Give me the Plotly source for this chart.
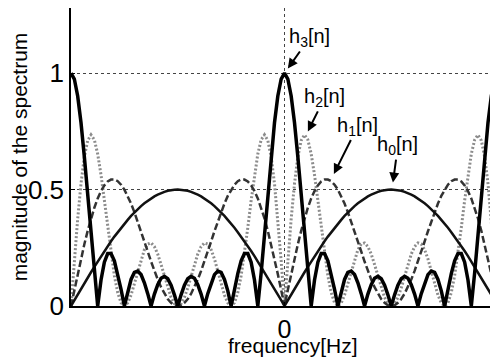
import plotly.graph_objects as go

# frequency bins (1/64 of the period), from -1 period to +1 period
freq_bins = list(range(-64, 65))

h0 = [0, 0.025, 0.049, 0.073, 0.098, 0.121, 0.145, 0.168, 0.191, 0.214, 0.236, 0.257, 0.278, 0.298, 0.317, 0.336,
      0.354, 0.370, 0.387, 0.402, 0.416, 0.429, 0.441, 0.452, 0.462, 0.471, 0.478, 0.485, 0.490, 0.495, 0.498, 0.499,
      0.500,
      0.499, 0.498, 0.495, 0.490, 0.485, 0.478, 0.471, 0.462, 0.452, 0.441, 0.429, 0.416, 0.402, 0.387, 0.370, 0.354,
      0.336, 0.317, 0.298, 0.278, 0.257, 0.236, 0.214, 0.191, 0.168, 0.145, 0.121, 0.098, 0.073, 0.049, 0.025, 0,
      0.025, 0.049, 0.073, 0.098, 0.121, 0.145, 0.168, 0.191, 0.214, 0.236, 0.257, 0.278, 0.298, 0.317, 0.336,
      0.354, 0.370, 0.387, 0.402, 0.416, 0.429, 0.441, 0.452, 0.462, 0.471, 0.478, 0.485, 0.490, 0.495, 0.498, 0.499,
      0.500,
      0.499, 0.498, 0.495, 0.490, 0.485, 0.478, 0.471, 0.462, 0.452, 0.441, 0.429, 0.416, 0.402, 0.387, 0.370, 0.354,
      0.336, 0.317, 0.298, 0.278, 0.257, 0.236, 0.214, 0.191, 0.168, 0.145, 0.121, 0.098, 0.073, 0.049, 0.025, 0]

h1 = [0, 0.069, 0.137, 0.203, 0.265, 0.323, 0.376, 0.422, 0.462, 0.494, 0.518, 0.535, 0.543, 0.543, 0.536, 0.521,
      0.500, 0.473, 0.440, 0.403, 0.363, 0.321, 0.277, 0.234, 0.191, 0.151, 0.114, 0.081, 0.053, 0.030, 0.014, 0.003,
      0,
      0.003, 0.014, 0.030, 0.053, 0.081, 0.114, 0.151, 0.191, 0.234, 0.277, 0.321, 0.363, 0.403, 0.440, 0.473, 0.500,
      0.521, 0.536, 0.543, 0.543, 0.535, 0.518, 0.494, 0.462, 0.422, 0.376, 0.323, 0.265, 0.203, 0.137, 0.069, 0,
      0.069, 0.137, 0.203, 0.265, 0.323, 0.376, 0.422, 0.462, 0.494, 0.518, 0.535, 0.543, 0.543, 0.536, 0.521,
      0.500, 0.473, 0.440, 0.403, 0.363, 0.321, 0.277, 0.234, 0.191, 0.151, 0.114, 0.081, 0.053, 0.030, 0.014, 0.003,
      0,
      0.003, 0.014, 0.030, 0.053, 0.081, 0.114, 0.151, 0.191, 0.234, 0.277, 0.321, 0.363, 0.403, 0.440, 0.473, 0.500,
      0.521, 0.536, 0.543, 0.543, 0.535, 0.518, 0.494, 0.462, 0.422, 0.376, 0.323, 0.265, 0.203, 0.137, 0.069, 0]

h2 = [0, 0.194, 0.374, 0.526, 0.641, 0.711, 0.735, 0.714, 0.653, 0.563, 0.453, 0.336, 0.225, 0.130, 0.058, 0.014,
      0, 0.013, 0.047, 0.096, 0.150, 0.202, 0.242, 0.266, 0.271, 0.255, 0.223, 0.178, 0.127, 0.078, 0.037, 0.010,
      0,
      0.010, 0.037, 0.078, 0.127, 0.178, 0.223, 0.255, 0.271, 0.266, 0.242, 0.202, 0.150, 0.096, 0.047, 0.013, 0,
      0.014, 0.058, 0.130, 0.225, 0.336, 0.453, 0.563, 0.653, 0.714, 0.735, 0.711, 0.641, 0.526, 0.374, 0.194, 0,
      0.194, 0.374, 0.526, 0.641, 0.711, 0.735, 0.714, 0.653, 0.563, 0.453, 0.336, 0.225, 0.130, 0.058, 0.014,
      0, 0.013, 0.047, 0.096, 0.150, 0.202, 0.242, 0.266, 0.271, 0.255, 0.223, 0.178, 0.127, 0.078, 0.037, 0.010,
      0,
      0.010, 0.037, 0.078, 0.127, 0.178, 0.223, 0.255, 0.271, 0.266, 0.242, 0.202, 0.150, 0.096, 0.047, 0.013, 0,
      0.014, 0.058, 0.130, 0.225, 0.336, 0.453, 0.563, 0.653, 0.714, 0.735, 0.711, 0.641, 0.526, 0.374, 0.194, 0]

h3 = [1, 0.975, 0.902, 0.787, 0.641, 0.475, 0.305, 0.142, 0, 0.112, 0.188, 0.225, 0.225, 0.194, 0.139, 0.071,
      0, 0.065, 0.114, 0.144, 0.150, 0.135, 0.100, 0.053, 0, 0.051, 0.092, 0.119, 0.127, 0.117, 0.089, 0.048,
      0,
      0.048, 0.089, 0.117, 0.127, 0.119, 0.092, 0.051, 0, 0.053, 0.100, 0.135, 0.150, 0.144, 0.114, 0.065, 0,
      0.071, 0.139, 0.194, 0.225, 0.225, 0.188, 0.112, 0, 0.142, 0.305, 0.475, 0.641, 0.787, 0.902, 0.975, 1,
      0.975, 0.902, 0.787, 0.641, 0.475, 0.305, 0.142, 0, 0.112, 0.188, 0.225, 0.225, 0.194, 0.139, 0.071,
      0, 0.065, 0.114, 0.144, 0.150, 0.135, 0.100, 0.053, 0, 0.051, 0.092, 0.119, 0.127, 0.117, 0.089, 0.048,
      0,
      0.048, 0.089, 0.117, 0.127, 0.119, 0.092, 0.051, 0, 0.053, 0.100, 0.135, 0.150, 0.144, 0.114, 0.065, 0,
      0.071, 0.139, 0.194, 0.225, 0.225, 0.188, 0.112, 0, 0.142, 0.305, 0.475, 0.641, 0.787, 0.902, 0.975, 1]

y_ticks = [0, 0.5, 1]
y_tick_labels = ["0", "0.5", "1"]
x_ticks = [0]
x_tick_labels = ["0"]
x_title = "frequency[Hz]"
y_title = "magnitude of the spectrum"

labels = ["h<sub>3</sub>[n]", "h<sub>2</sub>[n]", "h<sub>1</sub>[n]", "h<sub>0</sub>[n]"]
label_points = [(1, 1.02), (7, 0.75), (14.8, 0.567), (32.5, 0.53)]
label_offsets = [(22, -31), (17, -34), (24, -48), (5, -37)]

FONT = "Liberation Sans, Arial, Helvetica, sans-serif"

fig = go.Figure()
fig.add_trace(go.Scatter(x=freq_bins, y=h2, mode="lines", name="h2[n]",
                         line=dict(color="#8c8c8c", width=3, dash="2px,2px")))
fig.add_trace(go.Scatter(x=freq_bins, y=h1, mode="lines", name="h1[n]",
                         line=dict(color="#333333", width=2.5, dash="7px,3px")))
fig.add_trace(go.Scatter(x=freq_bins, y=h0, mode="lines", name="h0[n]",
                         line=dict(color="#111111", width=2.5)))
fig.add_trace(go.Scatter(x=freq_bins, y=h3, mode="lines", name="h3[n]",
                         line=dict(color="#000000", width=3.5)))

for text, (px, py), (ax, ay) in zip(labels, label_points, label_offsets):
    fig.add_annotation(x=px, y=py, text=text, showarrow=True, ax=ax, ay=ay,
                       arrowhead=2, arrowsize=1, arrowwidth=2, arrowcolor="black",
                       font=dict(family=FONT, size=20, color="black"))

# x-axis title, placed slightly right of centre as in the original
fig.add_annotation(x=0.52, y=0, xref="paper", yref="paper", text=x_title,
                   showarrow=False, xanchor="center", yanchor="middle", yshift=-39,
                   font=dict(family=FONT, size=21, color="black"))

# the page places the figure 8px from the top-left corner, so the
# figure is 490x352 and the margins are reduced accordingly
fig.update_layout(
    width=490, height=352,
    margin=dict(l=63, r=0, t=0, b=54, autoexpand=False),
    paper_bgcolor="white", plot_bgcolor="white",
    showlegend=False,
    font=dict(family=FONT, color="black"),
)
fig.update_xaxes(
    range=[-64, 64], tickvals=x_ticks, ticktext=x_tick_labels, automargin=False,
    tickfont=dict(size=25), ticks="inside", ticklen=4, tickcolor="black",
    showline=True, linecolor="black", linewidth=2, mirror=True,
    showgrid=True, gridcolor="#444", griddash="dot", gridwidth=1, zeroline=False,
)
fig.update_yaxes(
    range=[0, 1.28], tickvals=y_ticks, ticktext=y_tick_labels, automargin=False,
    tickfont=dict(size=26), ticks="inside", ticklen=4, tickcolor="black",
    showline=True, linecolor="black", linewidth=1.5, mirror=True,
    showgrid=True, gridcolor="#444", griddash="dot", gridwidth=1, zeroline=False,
    title=dict(text=y_title, font=dict(size=21), standoff=4),
)

fig.write_html("out.html")
